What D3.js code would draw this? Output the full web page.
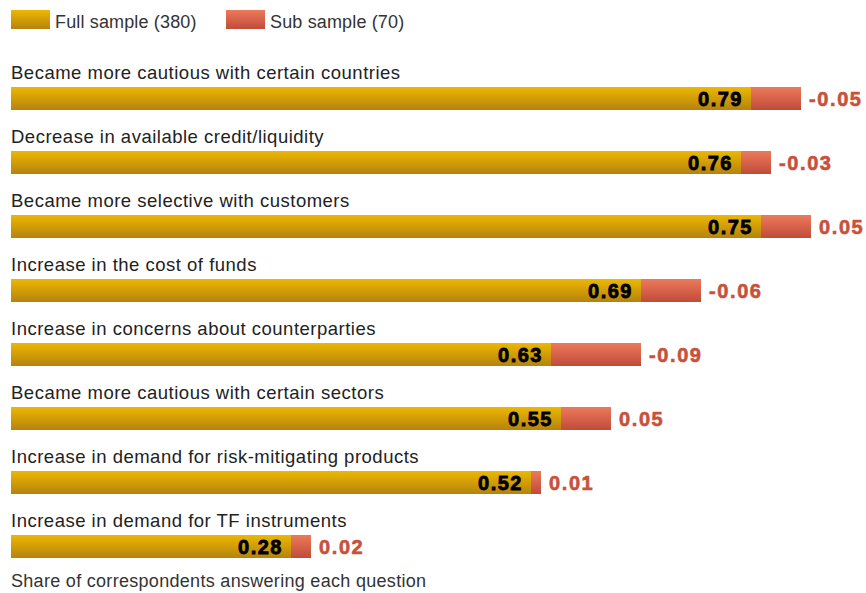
<!DOCTYPE html>
<html>
<head>
<meta charset="utf-8">
<script src="https://cdn.jsdelivr.net/npm/d3@7"></script>
<style>
  html, body { margin: 0; padding: 0; background: #fff; }
  svg text { font-family: "Liberation Sans", Arial, Helvetica, sans-serif; }
</style>
</head>
<body>
<svg id="chart" width="866" height="593"></svg>
<script>
// Survey items, full-sample shares and sub-sample differences
const categories = [
  "Became more cautious with certain countries",
  "Decrease in available credit/liquidity",
  "Became more selective with customers",
  "Increase in the cost of funds",
  "Increase in concerns about counterparties",
  "Became more cautious with certain sectors",
  "Increase in demand for risk-mitigating products",
  "Increase in demand for TF instruments"
];
const fullSample = [0.79, 0.76, 0.75, 0.69, 0.63, 0.55, 0.52, 0.28];
const subDiff = [-0.05, -0.03, 0.05, -0.06, -0.09, 0.05, 0.01, 0.02];
const legendLabels = ["Full sample (380)", "Sub sample (70)"];
const footnote = "Share of correspondents answering each question";

const svg = d3.select("#chart");

const defs = svg.append("defs");
function vGrad(id, top, bottom) {
  const g = defs.append("linearGradient").attr("id", id)
    .attr("x1", 0).attr("y1", 0).attr("x2", 0).attr("y2", 1);
  g.append("stop").attr("offset", "0%").attr("stop-color", top);
  g.append("stop").attr("offset", "100%").attr("stop-color", bottom);
}
vGrad("gold", "#ecb800", "#b6820f");
vGrad("red", "#ec7a5a", "#c04b3a");

const x = d3.scaleLinear().domain([0, 1]).range([11, 1011]);
const rowStep = 64;
const y = d3.scaleBand().domain(d3.range(categories.length))
  .range([63, 63 + rowStep * categories.length]).paddingInner(0).paddingOuter(0);

const barH = 23;
const barOffset = 24; // bar top relative to row start

// Legend
const legend = svg.append("g");
const legendX = [11, 226];
legendLabels.forEach((lab, i) => {
  legend.append("rect").attr("x", legendX[i]).attr("y", 10).attr("width", 39).attr("height", 19)
    .attr("fill", i === 0 ? "url(#gold)" : "url(#red)");
  legend.append("text").attr("x", legendX[i] + 44).attr("y", 28)
    .attr("font-size", 18).attr("letter-spacing", 0.15).attr("fill", "#333").text(lab);
});

const rows = svg.append("g").selectAll("g").data(categories).join("g")
  .attr("transform", (d, i) => `translate(0,${y(i)})`);

rows.append("text").attr("x", 11).attr("y", 16)
  .attr("font-size", 18.5).attr("letter-spacing", 0.5).attr("fill", "#222").text(d => d);

const lo = i => Math.min(fullSample[i], fullSample[i] + subDiff[i]);
const hi = i => Math.max(fullSample[i], fullSample[i] + subDiff[i]);

// Gold segment: the smaller of the two samples
rows.append("rect")
  .attr("x", x(0)).attr("y", barOffset).attr("height", barH)
  .attr("width", (d, i) => x(lo(i)) - x(0))
  .attr("fill", "url(#gold)");

// Red segment: gap between full and sub sample
rows.append("rect")
  .attr("x", (d, i) => x(lo(i)))
  .attr("y", barOffset).attr("height", barH)
  .attr("width", (d, i) => x(hi(i)) - x(lo(i)))
  .attr("fill", "url(#red)");

// Full-sample value inside the gold segment
rows.append("text")
  .attr("x", (d, i) => x(lo(i)) - 8)
  .attr("y", barOffset + 19)
  .attr("text-anchor", "end").attr("font-size", 20).attr("font-weight", "bold")
  .attr("letter-spacing", 1.5)
  .attr("fill", "#000").attr("stroke", "#000").attr("stroke-width", 0.8)
  .text((d, i) => fullSample[i].toFixed(2));

// Difference label after the bar
rows.append("text")
  .attr("x", (d, i) => x(hi(i)) + 8)
  .attr("y", barOffset + 19)
  .attr("font-size", 20).attr("font-weight", "bold")
  .attr("letter-spacing", 1.6)
  .attr("fill", "#c9503b").attr("stroke", "#c9503b").attr("stroke-width", 0.6)
  .text((d, i) => subDiff[i].toFixed(2));

svg.append("text").attr("x", 11).attr("y", 587)
  .attr("font-size", 18).attr("letter-spacing", 0.3).attr("fill", "#333").text(footnote);
</script>
</body>
</html>
